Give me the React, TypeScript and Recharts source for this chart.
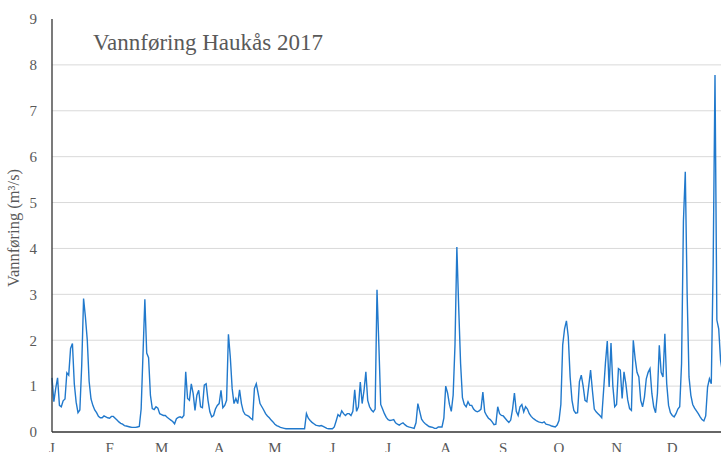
import React from 'react'
import { LineChart, Line, XAxis, YAxis, CartesianGrid } from 'recharts'

// daily discharge (m3/s), one array per month
const jan = [1.18, 0.66, 0.95, 1.18, 0.58, 0.55, 0.68, 0.72, 1.29, 1.24, 1.82, 1.93, 1.05, 0.65, 0.42, 0.48, 1.45, 2.91, 2.5, 2.0, 1.1, 0.72, 0.58, 0.48, 0.42, 0.34, 0.31, 0.31, 0.35, 0.33, 0.31]
const feb = [0.3, 0.34, 0.34, 0.3, 0.26, 0.22, 0.19, 0.17, 0.14, 0.13, 0.12, 0.11, 0.1, 0.1, 0.1, 0.11, 0.12, 0.5, 1.7, 2.89, 1.72, 1.62, 0.8, 0.51, 0.49, 0.55, 0.52, 0.4]
const mar = [0.38, 0.36, 0.36, 0.32, 0.29, 0.26, 0.23, 0.18, 0.29, 0.32, 0.33, 0.31, 0.36, 1.31, 0.73, 0.69, 1.05, 0.84, 0.47, 0.8, 0.91, 0.55, 0.53, 1.02, 1.05, 0.69, 0.44, 0.33, 0.36, 0.5, 0.58]
const apr = [0.62, 0.91, 0.53, 0.58, 0.69, 2.13, 1.64, 0.95, 0.62, 0.73, 0.62, 0.92, 0.62, 0.45, 0.38, 0.36, 0.34, 0.3, 0.27, 0.95, 1.05, 0.84, 0.62, 0.55, 0.48, 0.4, 0.35, 0.31, 0.26, 0.22]
const may = [0.17, 0.14, 0.12, 0.1, 0.09, 0.08, 0.07, 0.07, 0.07, 0.07, 0.07, 0.07, 0.07, 0.07, 0.07, 0.07, 0.07, 0.4, 0.3, 0.25, 0.21, 0.18, 0.15, 0.14, 0.13, 0.14, 0.12, 0.1, 0.08, 0.07, 0.07]
const jun = [0.07, 0.11, 0.24, 0.38, 0.34, 0.46, 0.4, 0.36, 0.4, 0.4, 0.36, 0.45, 0.92, 0.45, 0.55, 1.09, 0.62, 0.9, 1.31, 0.69, 0.55, 0.48, 0.44, 0.5, 3.1, 1.9, 0.6, 0.5, 0.4, 0.32]
const jul = [0.27, 0.25, 0.26, 0.27, 0.2, 0.17, 0.15, 0.18, 0.2, 0.16, 0.13, 0.11, 0.1, 0.09, 0.08, 0.2, 0.62, 0.45, 0.28, 0.22, 0.18, 0.15, 0.12, 0.11, 0.1, 0.08, 0.08, 0.11, 0.11, 0.11, 0.3]
const aug = [1.0, 0.85, 0.6, 0.45, 0.8, 1.9, 4.03, 2.7, 1.5, 0.75, 0.6, 0.55, 0.66, 0.58, 0.58, 0.5, 0.46, 0.44, 0.46, 0.5, 0.87, 0.44, 0.36, 0.3, 0.27, 0.22, 0.16, 0.17, 0.55, 0.4, 0.36]
const sep = [0.35, 0.3, 0.25, 0.21, 0.26, 0.5, 0.85, 0.45, 0.36, 0.55, 0.6, 0.44, 0.55, 0.5, 0.4, 0.34, 0.3, 0.27, 0.24, 0.22, 0.21, 0.2, 0.22, 0.17, 0.16, 0.15, 0.13, 0.12, 0.11, 0.15]
const oct = [0.25, 0.6, 1.9, 2.25, 2.42, 2.07, 1.2, 0.69, 0.47, 0.41, 0.42, 1.1, 1.24, 1.0, 0.69, 0.66, 1.0, 1.35, 0.9, 0.5, 0.44, 0.4, 0.36, 0.31, 0.9, 1.5, 1.98, 0.98, 1.94, 1.0, 0.55]
const nov = [0.6, 1.38, 1.35, 0.73, 1.31, 1.05, 0.7, 0.51, 0.47, 2.0, 1.6, 1.3, 1.2, 0.69, 0.55, 0.76, 1.16, 1.3, 1.38, 0.84, 0.55, 0.42, 0.84, 1.89, 1.3, 1.2, 2.14, 1.05, 0.58, 0.42]
const dec = [0.36, 0.33, 0.4, 0.5, 0.55, 1.5, 4.6, 5.67, 3.0, 1.2, 0.8, 0.6, 0.52, 0.46, 0.4, 0.33, 0.27, 0.24, 0.35, 0.98, 1.16, 1.05, 3.6, 7.78, 2.44, 2.25, 1.56, 1.3, 1.1, 0.95, 0.85]

const monthLabels = ['J', 'F', 'M', 'A', 'M', 'J', 'J', 'A', 'S', 'O', 'N', 'D']
const monthStarts = [0, 31, 59, 90, 120, 151, 181, 212, 243, 273, 304, 334]
const yTicks = [0, 1, 2, 3, 4, 5, 6, 7, 8, 9]
const gridValues = [1, 2, 3, 4, 5, 6, 7, 8]

const flow = [...jan, ...feb, ...mar, ...apr, ...may, ...jun, ...jul, ...aug, ...sep, ...oct, ...nov, ...dec]
const data = flow.map((v, i) => ({ day: i, flow: v }))

const serif = '"Liberation Serif", "Times New Roman", serif'
const tickStyle = { fontFamily: serif, fontSize: 15, fill: '#595959' }

export default function App() {
  return (
    <div style={{ position: 'absolute', left: 0, top: 0, width: 721, height: 452, overflow: 'hidden', background: '#fff' }}>
      <LineChart width={745} height={470} data={data} margin={{ top: 19, right: 17, bottom: 8, left: 0 }}>
        <CartesianGrid vertical={false} horizontalValues={gridValues} stroke="#d9d9d9" />
        <XAxis
          dataKey="day"
          type="number"
          domain={[0, 364]}
          ticks={monthStarts}
          tickFormatter={(v) => monthLabels[monthStarts.indexOf(v)]}
          tickLine={false}
          tickSize={6}
          tickMargin={4}
          height={30}
          axisLine={{ stroke: '#333', strokeWidth: 1.3 }}
          tick={tickStyle}
          interval={0}
        />
        <YAxis
          domain={[0, 9]}
          ticks={yTicks}
          tickLine={false}
          tickSize={6}
          tickMargin={9}
          width={52}
          axisLine={{ stroke: '#333', strokeWidth: 1.3 }}
          tick={tickStyle}
          interval={0}
        />
        <Line
          type="linear"
          dataKey="flow"
          stroke="#2179cc"
          strokeWidth={1.4}
          dot={false}
          isAnimationActive={false}
        />
      </LineChart>
      <div style={{ position: 'absolute', left: 93, top: 30, fontFamily: serif, fontSize: 23, lineHeight: '26px', color: '#595959', whiteSpace: 'nowrap' }}>
        Vannføring Haukås 2017
      </div>
      <div
        style={{
          position: 'absolute',
          left: 14,
          top: 228,
          transform: 'translate(-50%, -50%) rotate(-90deg)',
          fontFamily: serif,
          fontSize: 16.5,
          color: '#595959',
          whiteSpace: 'nowrap',
        }}
      >
        Vannføring (m³/s)
      </div>
    </div>
  )
}
